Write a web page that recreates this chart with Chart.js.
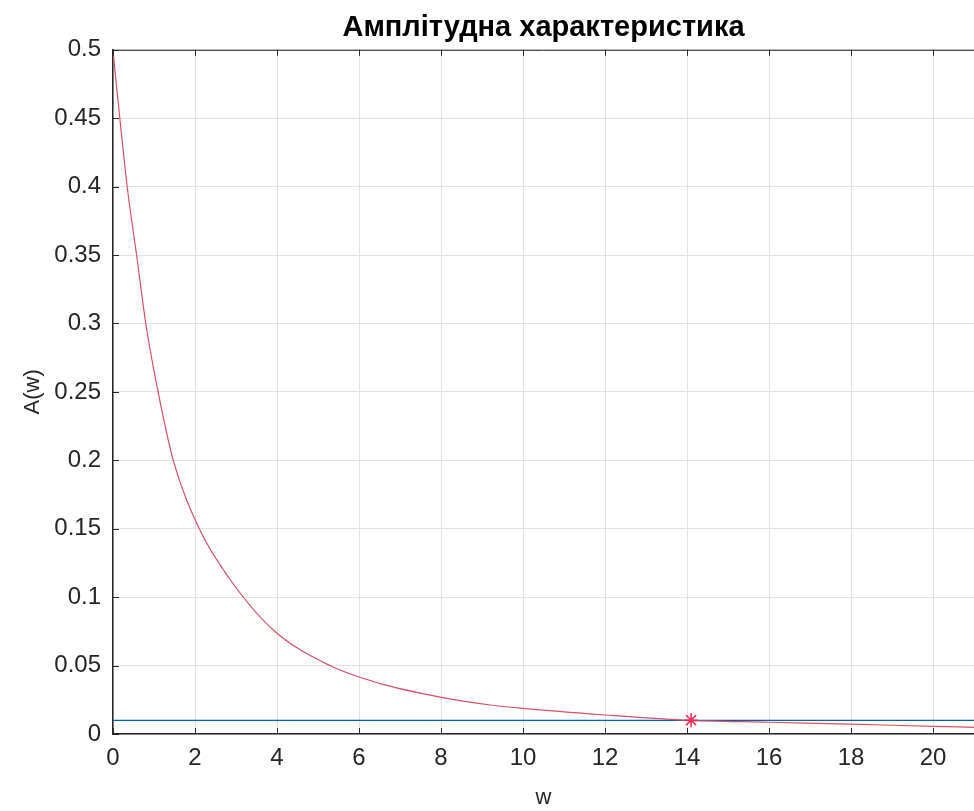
<!DOCTYPE html>
<html>
<head>
<meta charset="utf-8">
<title>Амплітудна характеристика</title>
<script src="https://cdn.jsdelivr.net/npm/chart.js@4/dist/chart.umd.min.js"></script>
<style>
  body { margin: 0; background: #fff; }
  #grafico { display: block; }
</style>
</head>
<body>
<canvas id="grafico" width="974" height="811"></canvas>
<script>
// Valores
const frecuencias = [0, 0.05, 0.17, 0.35, 0.58, 0.8, 1.1, 1.47, 2.12, 2.83, 3.91, 5.29, 6.5, 7.98, 9.2, 10, 12, 13.9, 16, 18, 20, 21];
const amplitudes = [0.5, 0.484, 0.449, 0.399, 0.349, 0.3, 0.25, 0.2, 0.149, 0.114, 0.076, 0.05, 0.037, 0.027, 0.0212, 0.0187, 0.0139, 0.0102, 0.0086, 0.0072, 0.0056, 0.0049];

const nivelW = [0, 21];
const nivelA = [0.01, 0.01];

const marcaW = [14.1];
const marcaA = [0.0101];

const ticksX = [0, 2, 4, 6, 8, 10, 12, 14, 16, 18, 20];
const ticksY = [0, 0.05, 0.1, 0.15, 0.2, 0.25, 0.3, 0.35, 0.4, 0.45, 0.5];

const fuente = "'Liberation Sans', Arial, sans-serif";
const colorEje = '#262626';

// Marco superior y ticks hacia adentro, como en MATLAB
const marcoPlugin = {
    id: 'marco',
    afterDraw(chart) {
        const ctx = chart.ctx;
        const area = chart.chartArea;
        const sx = chart.scales.x;
        const sy = chart.scales.y;
        ctx.save();
        ctx.strokeStyle = colorEje;
        ctx.lineWidth = 1;
        ctx.beginPath();
        ctx.moveTo(area.left, area.top + 0.5);
        ctx.lineTo(area.right, area.top + 0.5);
        ticksX.forEach(v => {
            const px = Math.round(sx.getPixelForValue(v)) + 0.5;
            ctx.moveTo(px, area.bottom);
            ctx.lineTo(px, area.bottom - 6);
            ctx.moveTo(px, area.top);
            ctx.lineTo(px, area.top + 6);
        });
        ticksY.forEach(v => {
            const py = Math.round(sy.getPixelForValue(v)) + 0.5;
            ctx.moveTo(area.left, py);
            ctx.lineTo(area.left + 6, py);
        });
        ctx.stroke();
        ctx.restore();
    }
};

const ctx = document.getElementById('grafico').getContext('2d');

new Chart(ctx, {
    type: 'line',
    data: {
        datasets: [
            {
                label: 'nivel',
                data: nivelW.map((w, i) => ({ x: w, y: nivelA[i] })),
                borderColor: 'rgb(0, 94, 184)',
                borderWidth: 1.2,
                pointRadius: 0,
                order: 3
            },
            {
                label: 'A(w)',
                data: frecuencias.map((w, i) => ({ x: w, y: amplitudes[i] })),
                borderColor: 'rgb(214, 80, 105)',
                borderWidth: 1.2,
                pointRadius: 0,
                cubicInterpolationMode: 'monotone',
                order: 2
            },
            {
                label: 'cruce',
                data: marcaW.map((w, i) => ({ x: w, y: marcaA[i] })),
                showLine: false,
                pointStyle: 'star',
                pointRadius: 7,
                borderColor: 'rgb(240, 40, 80)',
                borderWidth: 1.5,
                order: 1
            }
        ]
    },
    options: {
        responsive: false,
        animation: false,
        layout: {
            autoPadding: false, // sin margen extra por el marcador, el área llega al borde
            padding: { top: 0, right: 0, bottom: 0, left: 0 }
        },
        plugins: {
            legend: { display: false },
            tooltip: { enabled: false },
            title: {
                display: true,
                text: 'Амплітудна характеристика',
                fullSize: false,
                color: '#000',
                font: { family: fuente, size: 29, weight: 'bold' },
                padding: { top: 11, bottom: 4 }
            }
        },
        scales: {
            x: {
                type: 'linear',
                min: 0,
                max: 21,
                afterBuildTicks: scale => {
                    scale.ticks = ticksX.map(v => ({ value: v }));
                },
                afterFit: scale => {
                    scale.height = 77;
                    scale.paddingRight = 0;
                },
                grid: { color: '#e2e2e2', drawTicks: false },
                border: { color: colorEje, width: 1.5 },
                ticks: {
                    color: '#262626',
                    padding: 10,
                    maxRotation: 0,
                    font: { family: fuente, size: 24 }
                },
                title: {
                    display: true,
                    text: 'w',
                    color: '#262626',
                    font: { family: fuente, size: 22 },
                    padding: { top: 0, bottom: 0 }
                }
            },
            y: {
                min: 0,
                max: 0.5,
                afterBuildTicks: scale => {
                    scale.ticks = ticksY.map(v => ({ value: v }));
                },
                afterFit: scale => { scale.width = 113; },
                grid: { color: '#e2e2e2', drawTicks: false },
                border: { color: colorEje, width: 1.5 },
                ticks: {
                    color: '#262626',
                    padding: 12,
                    font: { family: fuente, size: 24 },
                    callback: v => String(Number(v.toFixed(2)))
                },
                title: {
                    display: true,
                    text: 'A(w)',
                    color: '#262626',
                    font: { family: fuente, size: 22 },
                    padding: { top: 20, bottom: 0 }
                }
            }
        }
    },
    plugins: [marcoPlugin]
});
</script>
</body>
</html>
